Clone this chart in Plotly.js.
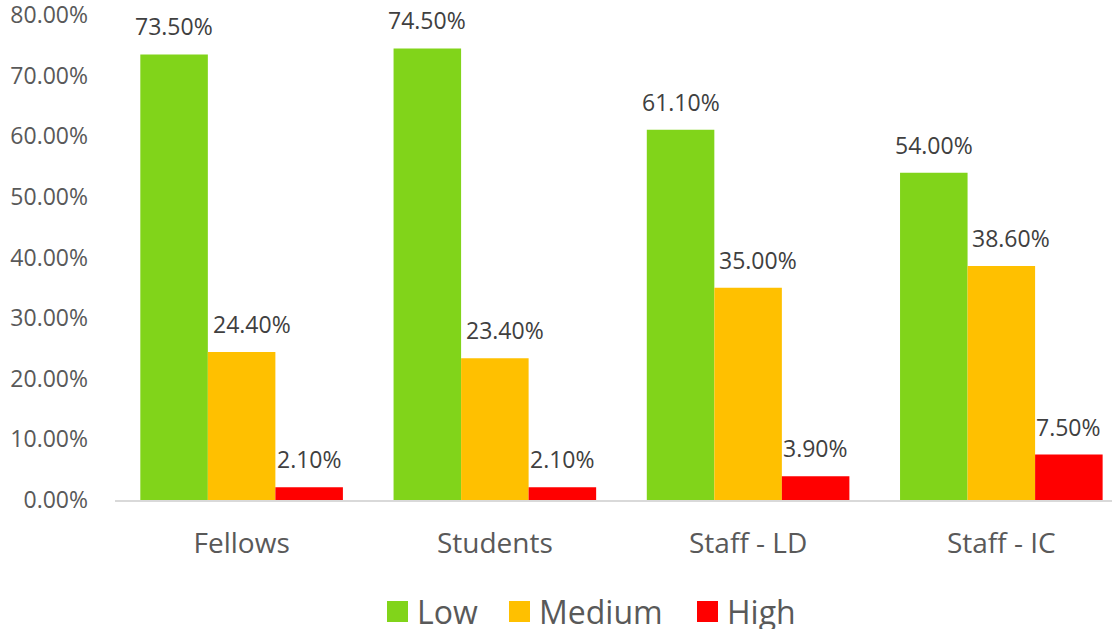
<!DOCTYPE html>
<html>
<head>
<meta charset="utf-8">
<script src="https://cdn.plot.ly/plotly-3.0.1.min.js"></script>
<style>html,body{margin:0;padding:0;background:#fff;}#chart{width:1112px;height:631px;}</style>
</head>
<body>
<div id="chart"></div>
<script>
const categories = ["Fellows", "Students", "Staff - LD", "Staff - IC"];
const seriesNames = ["Low", "Medium", "High"];
const lowValues = [0.735, 0.745, 0.611, 0.540];
const mediumValues = [0.244, 0.234, 0.350, 0.386];
const highValues = [0.021, 0.021, 0.039, 0.075];
const tickValues = [0, 0.1, 0.2, 0.3, 0.4, 0.5, 0.6, 0.7, 0.8];
const colors = ["#81D41A", "#FFC000", "#FF0000"];

const fontFam = "'Open Sans', 'Noto Sans', sans-serif";
const allValues = [lowValues, mediumValues, highValues];
const bargap = 0.2;
const barW = (1 - bargap) / allValues.length;
const labelXShift = [0, 10, 0];

const traces = allValues.map((vals, i) => ({
  type: "bar",
  name: seriesNames[i],
  x: categories,
  y: vals,
  marker: {color: colors[i]},
  textposition: "none",
  hoverinfo: "skip",
  showlegend: false
}));

// data labels above bars
const annotations = [];
allValues.forEach((vals, i) => {
  vals.forEach((v, j) => {
    annotations.push({
      xref: "x", yref: "y",
      x: j + (i - 1) * barW, y: v,
      text: (v * 100).toFixed(2) + "%",
      showarrow: false, xanchor: "center", yanchor: "bottom", yshift: 10, xshift: labelXShift[i],
      font: {family: fontFam, size: 23, color: "#404040"}
    });
  });
});

// custom legend (large square swatches)
const plotL = 115, plotR = 1112, plotT = 9, plotB = 500;
const px2x = p => (p - plotL) / (plotR - plotL);
const px2y = p => (plotB - p) / (plotB - plotT);
const legendSwatchX = [387, 509, 697];
const shapes = [];
seriesNames.forEach((name, i) => {
  shapes.push({
    type: "rect", xref: "paper", yref: "paper",
    x0: px2x(legendSwatchX[i]), x1: px2x(legendSwatchX[i] + 21),
    y0: px2y(622), y1: px2y(601),
    fillcolor: colors[i], line: {width: 0}
  });
  annotations.push({
    xref: "paper", yref: "paper",
    x: px2x(legendSwatchX[i] + 28), y: px2y(611),
    text: name, showarrow: false, xanchor: "left", yanchor: "middle",
    height: 36, valign: "middle",
    font: {family: fontFam, size: 32, color: "#595959"}
  });
});

const layout = {
  width: 1112, height: 631,
  margin: {l: plotL, r: 0, t: plotT, b: 631 - plotB},
  paper_bgcolor: "#fff", plot_bgcolor: "#fff",
  barmode: "group",
  bargap: bargap,
  bargroupgap: 0,
  font: {family: fontFam, color: "#595959"},
  xaxis: {
    range: [-0.5, 3.437],
    showgrid: false, zeroline: false,
    showline: true, linecolor: "#D9D9D9", linewidth: 2,
    ticks: "", tickfont: {size: 28, color: "#595959"},
    ticklabelstandoff: 17
  },
  yaxis: {
    range: [0, 0.81], tickmode: "array", tickvals: tickValues, tickformat: ".2%",
    showgrid: false, zeroline: false, showline: false,
    ticks: "", tickfont: {size: 23, color: "#595959"},
    ticklabelstandoff: 26, ticklabeloverflow: "allow"
  },
  annotations: annotations,
  shapes: shapes,
  showlegend: false
};

Plotly.newPlot("chart", traces, layout, {displayModeBar: false, staticPlot: true});
</script>
</body>
</html>
